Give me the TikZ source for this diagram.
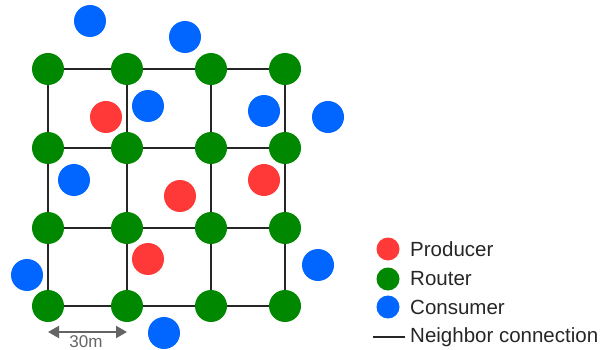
\documentclass[tikz,border=0pt]{standalone}
\usepackage{fontspec}
\setmainfont{Liberation Sans}
\usetikzlibrary{arrows.meta}
\definecolor{prodred}{RGB}{255,56,56}
\definecolor{routgreen}{RGB}{0,136,0}
\definecolor{consblue}{RGB}{0,102,255}
\definecolor{dimgray}{RGB}{100,100,100}
\begin{document}
\begin{tikzpicture}[x=1pt,y=-1pt,
  router/.style={circle,fill=routgreen,minimum size=32pt,inner sep=0pt},
  producer/.style={circle,fill=prodred,minimum size=32pt,inner sep=0pt},
  consumer/.style={circle,fill=consblue,minimum size=32pt,inner sep=0pt},
  legdot/.style={circle,minimum size=23pt,inner sep=0pt},
  link/.style={draw=black!85,line width=2pt},
  legtext/.style={anchor=west,font=\fontsize{20.5}{24}\selectfont,text=black!85,inner sep=0pt},
  dimarrow/.style={draw=dimgray,line width=2pt,{Triangle[length=11pt,width=12pt]}-{Triangle[length=11pt,width=12pt]}}]
\useasboundingbox (0,0) rectangle (600,350);
% grid lines (drawn first, routers on top)
\foreach \i/\x in {1/48,2/127,3/211,4/285}{
  \foreach \j/\y in {1/69,2/148,3/228,4/306}{
    \coordinate (c\i\j) at (\x,\y);
  }
}
\foreach \j in {1,2,3,4}{
  \draw[link] (c1\j) -- (c2\j) -- (c3\j) -- (c4\j);
  \draw[link] (c\j1) -- (c\j2) -- (c\j3) -- (c\j4);
}
\foreach \i in {1,2,3,4}{
  \foreach \j in {1,2,3,4}{
    \node[router] (r\i\j) at (c\i\j) {};
  }
}
% consumers
\node[consumer] (k1) at (90,21) {};
\node[consumer] (k2) at (185,37) {};
\node[consumer] (k3) at (148,106) {};
\node[consumer] (k4) at (264,111) {};
\node[consumer] (k5) at (328,117) {};
\node[consumer] (k6) at (74,180) {};
\node[consumer] (k7) at (27,275) {};
\node[consumer] (k8) at (318,265) {};
\node[consumer] (k9) at (164,333) {};
% producers
\node[producer] (p1) at (106,117) {};
\node[producer] (p2) at (180,196) {};
\node[producer] (p3) at (264,180) {};
\node[producer] (p4) at (148,259) {};
% dimension
\coordinate (d1) at (48,332);
\coordinate (d2) at (127,332);
\draw[dimarrow] (d1) -- (d2);
\node[font=\fontsize{17}{19}\selectfont,text=dimgray,inner sep=0pt] (dl) at (86,341.5) {30m};
% legend
\node[legdot,fill=prodred] (lp) at (388,249) {};
\node[legdot,fill=routgreen] (lr) at (388,279) {};
\node[legdot,fill=consblue] (lc) at (388,307) {};
\coordinate (la) at (373,337);
\coordinate (lb) at (405,337);
\draw[link] (la) -- (lb);
\node[legtext] (tp) at (410,249) {Producer};
\node[legtext] (tr) at (410,279) {Router};
\node[legtext] (tc) at (410,307) {Consumer};
\node[legtext] (tn) at (410,337) {Neighbor connection};
\end{tikzpicture}
\end{document}
